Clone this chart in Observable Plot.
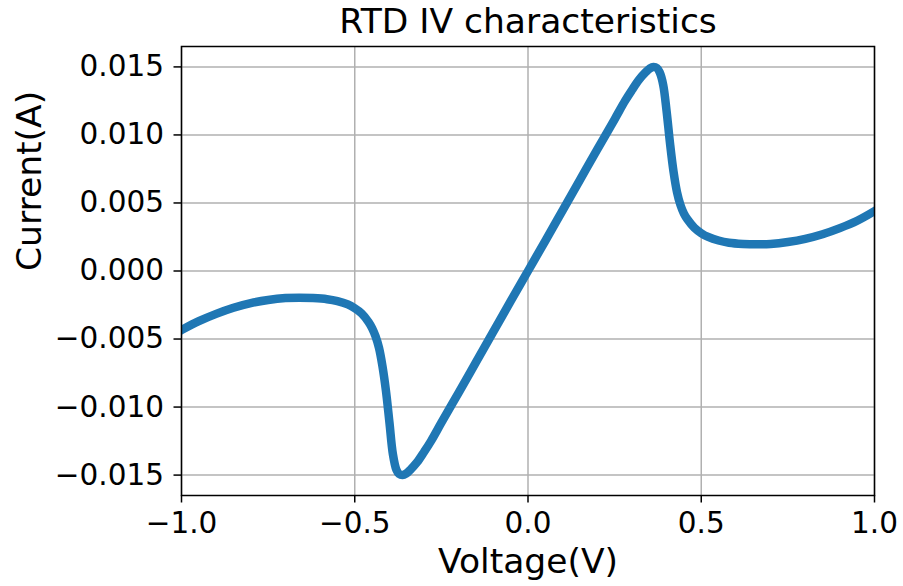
<!DOCTYPE html>
<html>
<head>
<meta charset="utf-8">
<script src="https://cdn.jsdelivr.net/npm/d3@7"></script>
<script src="https://cdn.jsdelivr.net/npm/@observablehq/plot@0.6"></script>
<style>
  html, body { margin: 0; padding: 0; background: #fff; }
  #chart svg { display: block; }
</style>
</head>
<body>
<div id="chart"></div>
<script>
// Resonant tunnelling diode sweep: bias voltage (V) and current (A)
const voltage = [
  -1.00, -0.95, -0.90, -0.85, -0.80, -0.75, -0.70, -0.66, -0.62, -0.58,
  -0.55, -0.52, -0.50, -0.48, -0.46, -0.45, -0.44, -0.43, -0.42, -0.41,
  -0.40, -0.39, -0.38, -0.372, -0.362, -0.352, -0.34, -0.32, -0.30, -0.28,
  -0.25, -0.20, -0.15, -0.10, -0.05, 0.00, 0.05, 0.10, 0.15, 0.20,
  0.25, 0.28, 0.30, 0.32, 0.34, 0.352, 0.362, 0.372, 0.38, 0.39,
  0.40, 0.41, 0.42, 0.43, 0.44, 0.45, 0.46, 0.48, 0.50, 0.52,
  0.55, 0.58, 0.62, 0.66, 0.70, 0.75, 0.80, 0.85, 0.90, 0.95,
  1.00
];
const current = [
  -0.00434, -0.00369, -0.00315, -0.00270, -0.00236, -0.00213, -0.00199, -0.00196, -0.00199, -0.00207,
  -0.00221, -0.00246, -0.00274, -0.00312, -0.00375, -0.00420, -0.00480, -0.00565, -0.00700, -0.00880,
  -0.01110, -0.01345, -0.01460, -0.01492, -0.01500, -0.01490, -0.01462, -0.01405, -0.01330, -0.01250,
  -0.01115, -0.00894, -0.00670, -0.00446, -0.00222, 0.00000, 0.00222, 0.00446, 0.00670, 0.00894,
  0.01115, 0.01250, 0.01330, 0.01405, 0.01462, 0.01490, 0.01500, 0.01492, 0.01460, 0.01370,
  0.01175, 0.00935, 0.00730, 0.00580, 0.00485, 0.00422, 0.00380, 0.00318, 0.00278, 0.00250,
  0.00224, 0.00208, 0.00199, 0.00196, 0.00199, 0.00213, 0.00236, 0.00270, 0.00315, 0.00369,
  0.00440
];

const xTicks = [-1.0, -0.5, 0.0, 0.5, 1.0];
const yTicks = [-0.015, -0.010, -0.005, 0.000, 0.005, 0.010, 0.015];

const titleText = "RTD IV characteristics";
const xLabel = "Voltage(V)";
const yLabel = "Current(A)";

const rows = voltage.map((v, i) => ({v, i: current[i]}));

const font = "'DejaVu Sans', sans-serif";
const tickFont = 29.5;
const labelFont = 34.5;

const chart = Plot.plot({
  width: 903,
  height: 586,
  marginLeft: 181,
  marginRight: 29,
  marginTop: 46,
  marginBottom: 91,
  style: {fontFamily: font, color: "#000", background: "#fff"},
  x: {domain: [-1, 1]},
  y: {domain: [-0.0165, 0.0165]},
  marks: [
    Plot.gridX(xTicks, {stroke: "#b0b0b0", strokeOpacity: 1, strokeWidth: 1.5}),
    Plot.gridY(yTicks, {stroke: "#b0b0b0", strokeOpacity: 1, strokeWidth: 1.5}),
    Plot.line(rows, {
      x: "v", y: "i",
      curve: "catmull-rom",
      stroke: "#1f77b4",
      strokeWidth: 8.5,
      strokeLinecap: "square",
      strokeLinejoin: "round",
      clip: true
    }),
    Plot.frame({stroke: "#000", strokeWidth: 1.5}),
    Plot.axisX(xTicks, {
      tickFormat: d3.format(".1f"),
      tickSize: 7.5, tickPadding: 9.5, fontSize: tickFont,
      strokeWidth: 1.5, label: null
    }),
    Plot.axisY(yTicks, {
      tickFormat: d3.format(".3f"),
      tickSize: 7.5, tickPadding: 10, fontSize: tickFont,
      strokeWidth: 1.5, label: null
    }),
    Plot.text([titleText], {
      frameAnchor: "top", lineAnchor: "bottom", dy: -14,
      fontSize: labelFont, fill: "#000"
    }),
    Plot.text([xLabel], {
      frameAnchor: "bottom", lineAnchor: "bottom", dy: 77,
      fontSize: labelFont, fill: "#000"
    }),
    Plot.text([yLabel], {
      frameAnchor: "left", lineAnchor: "bottom", rotate: -90, dx: -141,
      fontSize: labelFont, fill: "#000"
    })
  ]
});

document.getElementById("chart").appendChild(chart);
</script>
</body>
</html>
